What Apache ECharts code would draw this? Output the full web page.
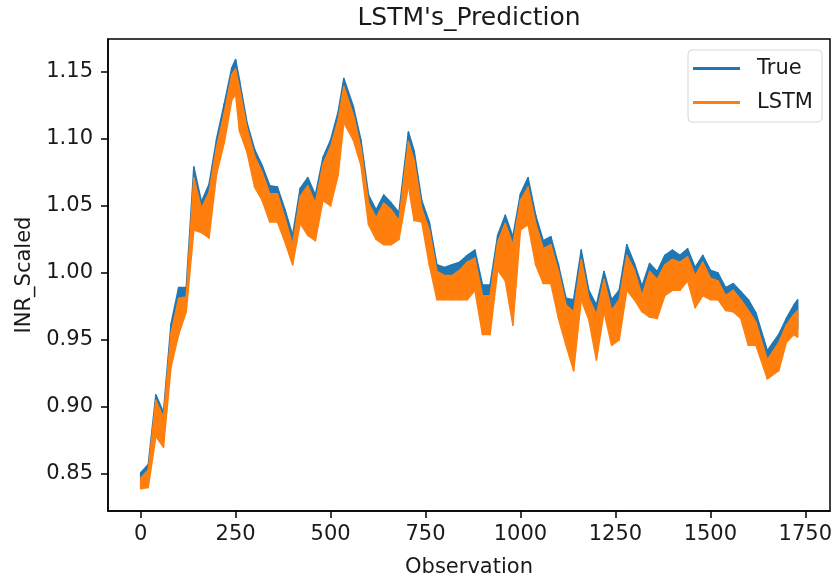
<!DOCTYPE html>
<html>
<head>
<meta charset="utf-8">
<title>LSTM's_Prediction</title>
<script src="https://cdn.jsdelivr.net/npm/echarts@6/dist/echarts.min.js"></script>
<style>
  html, body { margin: 0; padding: 0; background: #fff; }
  #chart { width: 834px; height: 581px; }
</style>
</head>
<body>
<div id="chart"></div>
<script>
// observation index of each reading
const obs = [0, 20, 40, 60, 80, 100, 120, 140, 160, 180,
    200, 220, 240, 250, 260, 280, 300, 320, 340, 360,
    380, 400, 420, 440, 460, 480, 500, 520, 535, 560,
    580, 600, 620, 640, 660, 680, 705, 720, 740, 760,
    780, 800, 820, 840, 860, 880, 900, 920, 940, 960,
    980, 1000, 1020, 1040, 1060, 1080, 1100, 1120, 1140, 1160,
    1180, 1200, 1220, 1240, 1260, 1280, 1300, 1320, 1340, 1360,
    1380, 1400, 1420, 1440, 1460, 1480, 1500, 1520, 1540, 1560,
    1580, 1600, 1620, 1650, 1680, 1700, 1720, 1730];

// True series: upper and lower edge of the noisy band
const trueHigh = [0.851, 0.857, 0.909, 0.896, 0.962, 0.989, 0.989, 1.079, 1.053, 1.066,
    1.100, 1.126, 1.153, 1.159, 1.144, 1.112, 1.092, 1.080, 1.065, 1.064,
    1.047, 1.028, 1.063, 1.071, 1.058, 1.086, 1.099, 1.120, 1.145, 1.124,
    1.099, 1.058, 1.047, 1.058, 1.052, 1.045, 1.105, 1.091, 1.054, 1.038,
    1.006, 1.004, 1.006, 1.008, 1.013, 1.017, 0.991, 0.991, 1.028, 1.043,
    1.027, 1.059, 1.071, 1.043, 1.024, 1.027, 1.006, 0.981, 0.980, 1.017,
    0.987, 0.976, 1.001, 0.980, 0.987, 1.021, 1.007, 0.990, 1.007, 1.001,
    1.013, 1.017, 1.013, 1.018, 1.004, 1.013, 1.002, 1.000, 0.989, 0.992,
    0.986, 0.980, 0.970, 0.942, 0.954, 0.966, 0.976, 0.980];
const trueLow = [0.845, 0.846, 0.884, 0.876, 0.936, 0.960, 0.977, 1.038, 1.036, 1.032,
    1.080, 1.103, 1.135, 1.139, 1.112, 1.096, 1.070, 1.060, 1.044, 1.044,
    1.029, 1.012, 1.043, 1.034, 1.030, 1.060, 1.056, 1.079, 1.118, 1.105,
    1.086, 1.042, 1.031, 1.027, 1.027, 1.031, 1.071, 1.045, 1.044, 1.012,
    0.986, 0.986, 0.986, 0.986, 0.986, 0.993, 0.960, 0.960, 1.008, 1.000,
    0.967, 1.038, 1.042, 1.012, 0.998, 0.998, 0.972, 0.952, 0.933, 0.986,
    0.971, 0.941, 0.977, 0.952, 0.956, 0.993, 0.986, 0.977, 0.973, 0.972,
    0.989, 0.993, 0.993, 1.000, 0.980, 0.989, 0.986, 0.986, 0.978, 0.977,
    0.972, 0.952, 0.952, 0.927, 0.933, 0.954, 0.960, 0.958];

// LSTM prediction: upper and lower edge of the band
const lstmHigh = [0.847, 0.853, 0.905, 0.892, 0.955, 0.981, 0.982, 1.071, 1.048, 1.060,
    1.094, 1.119, 1.148, 1.152, 1.138, 1.108, 1.087, 1.075, 1.059, 1.059,
    1.041, 1.021, 1.057, 1.065, 1.052, 1.081, 1.094, 1.114, 1.139, 1.118,
    1.093, 1.052, 1.041, 1.052, 1.047, 1.039, 1.098, 1.084, 1.048, 1.032,
    1.001, 0.998, 0.998, 1.002, 1.008, 1.011, 0.983, 0.983, 1.023, 1.037,
    1.021, 1.054, 1.064, 1.037, 1.018, 1.021, 1.001, 0.976, 0.971, 1.010,
    0.981, 0.969, 0.995, 0.972, 0.980, 1.013, 1.002, 0.983, 1.001, 0.995,
    1.006, 1.010, 1.008, 1.012, 0.998, 1.008, 0.996, 0.994, 0.983, 0.987,
    0.980, 0.972, 0.963, 0.935, 0.948, 0.961, 0.969, 0.972];
const lstmLow = [0.839, 0.840, 0.878, 0.870, 0.930, 0.954, 0.971, 1.032, 1.030, 1.026,
    1.074, 1.097, 1.129, 1.133, 1.106, 1.090, 1.064, 1.054, 1.038, 1.038,
    1.023, 1.006, 1.037, 1.028, 1.024, 1.054, 1.050, 1.073, 1.112, 1.099,
    1.080, 1.036, 1.025, 1.021, 1.021, 1.025, 1.065, 1.039, 1.038, 1.006,
    0.980, 0.980, 0.980, 0.980, 0.980, 0.987, 0.954, 0.954, 1.002, 0.994,
    0.961, 1.032, 1.036, 1.006, 0.992, 0.992, 0.966, 0.946, 0.927, 0.980,
    0.965, 0.935, 0.971, 0.946, 0.950, 0.987, 0.980, 0.971, 0.967, 0.966,
    0.983, 0.987, 0.987, 0.994, 0.974, 0.983, 0.980, 0.980, 0.972, 0.971,
    0.966, 0.946, 0.946, 0.921, 0.927, 0.948, 0.954, 0.952];

const xTicks = [0, 250, 500, 750, 1000, 1250, 1500, 1750];
const yTicks = [0.85, 0.90, 0.95, 1.00, 1.05, 1.10, 1.15];

const BLUE = '#1f77b4';
const ORANGE = '#ff7f0e';
const FONT = 'DejaVu Sans';
const TEXT = '#1a1a1a';

var chart = echarts.init(document.getElementById('chart'), null, { renderer: 'canvas' });

// one polygon per segment between two readings, filled from low edge to high edge
function bandSeries(name, color, low, high) {
    const segs = [];
    for (let i = 0; i < obs.length - 1; i++) {
        segs.push([obs[i], low[i], high[i], obs[i + 1], low[i + 1], high[i + 1]]);
    }
    return {
        name: name,
        type: 'custom',
        color: color,
        itemStyle: { color: color },
        clip: true,
        silent: true,
        encode: { x: [0, 3], y: [1, 2, 4, 5] },
        data: segs,
        renderItem: function (params, api) {
            const a = api.coord([api.value(0), api.value(2)]);
            const b = api.coord([api.value(3), api.value(5)]);
            const c = api.coord([api.value(3), api.value(4)]);
            const d = api.coord([api.value(0), api.value(1)]);
            return {
                type: 'polygon',
                shape: { points: [a, b, c, d] },
                style: { fill: color, stroke: color, lineWidth: 1.5, lineJoin: 'round' }
            };
        }
    };
}

var option = {
    animation: false,
    backgroundColor: '#fff',
    title: {
        text: "LSTM's_Prediction",
        left: 469,
        top: 6,
        padding: 0,
        textAlign: 'center',
        textStyle: { fontFamily: FONT, fontSize: 25, fontWeight: 'normal', color: TEXT }
    },
    legend: {
        data: ['True', 'LSTM'],
        orient: 'vertical',
        left: 688,
        top: 50,
        padding: [8, 9, 9, 5],
        itemGap: 13,
        itemWidth: 47,
        itemHeight: 3,
        icon: 'rect',
        borderColor: '#d6d6d6',
        borderWidth: 1,
        borderRadius: 4,
        backgroundColor: 'rgba(255,255,255,0.8)',
        textStyle: { fontFamily: FONT, fontSize: 21, color: TEXT, padding: [0, 0, 0, 12] }
    },
    grid: {
        left: 108,
        right: 4,
        top: 39,
        bottom: 70,
        show: true,
        borderColor: '#000',
        borderWidth: 1.5,
        containLabel: false,
        outerBoundsMode: 'none'
    },
    xAxis: {
        type: 'value',
        min: -86,
        max: 1815,
        name: 'Observation',
        nameLocation: 'middle',
        nameGap: 46,
        nameTextStyle: { fontFamily: FONT, fontSize: 21, color: TEXT },
        splitLine: { show: false },
        axisLine: { show: true, onZero: false, lineStyle: { color: '#000', width: 1.5 } },
        axisTick: { show: true, customValues: xTicks, length: 7, lineStyle: { color: '#000', width: 1.5 } },
        axisLabel: {
            customValues: xTicks,
            margin: 13,
            fontFamily: FONT,
            fontSize: 21,
            color: TEXT,
            formatter: v => String(v)
        }
    },
    yAxis: {
        type: 'value',
        min: 0.8224,
        max: 1.1744,
        name: 'INR_Scaled',
        nameLocation: 'middle',
        nameGap: 72,
        nameRotate: 90,
        nameTextStyle: { fontFamily: FONT, fontSize: 21, color: TEXT },
        splitLine: { show: false },
        axisLine: { show: true, onZero: false, lineStyle: { color: '#000', width: 1.5 } },
        axisTick: { show: true, customValues: yTicks, length: 7, lineStyle: { color: '#000', width: 1.5 } },
        axisLabel: {
            customValues: yTicks,
            margin: 15,
            fontFamily: FONT,
            fontSize: 21,
            color: TEXT,
            formatter: v => v.toFixed(2)
        }
    },
    series: [
        bandSeries('True', BLUE, trueLow, trueHigh),
        bandSeries('LSTM', ORANGE, lstmLow, lstmHigh)
    ]
};

chart.setOption(option);
</script>
</body>
</html>
